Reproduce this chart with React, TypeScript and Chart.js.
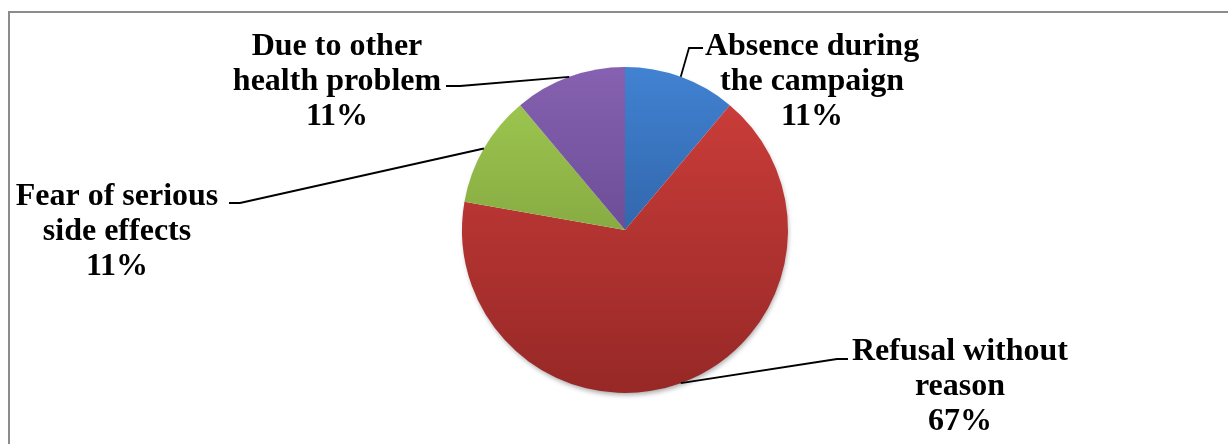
import React, { useEffect, useRef } from "react";
import { Chart, registerables } from "chart.js";

Chart.register(...registerables);

const categories = [
  ["Absence during", "the campaign"],
  ["Refusal without", "reason"],
  ["Fear of serious", "side effects"],
  ["Due to other", "health problem"],
];
const values = [1, 6, 1, 1];
const percentLabels = ["11%", "67%", "11%", "11%"];
const topColors = ["#4182D2", "#D03F3C", "#A2CC52", "#8661B1"];
const bottomColors = ["#234C86", "#962826", "#6C8B33", "#523A7C"];

// label layout: text centre x, first baseline y, elbow point, end point
const labelLayout = [
  { x: 812, y: 55, elbow: [689, 48], end: [703, 48] },
  { x: 960, y: 360, elbow: [837, 359], end: [848, 359] },
  { x: 117, y: 205, elbow: [240, 203], end: [229, 203] },
  { x: 337, y: 55, elbow: [460, 86], end: [446, 86] },
];

const labelPlugin = {
  id: "pieLabels",
  beforeDatasetsDraw(chart: any) {
    const meta = chart.getDatasetMeta(0);
    const arc = meta.data[0];
    if (!arc) return;
    const ctx = chart.ctx;
    ctx.save();
    ctx.shadowColor = "rgba(0,0,0,0.35)";
    ctx.shadowBlur = 5;
    ctx.shadowOffsetX = 1;
    ctx.shadowOffsetY = 3;
    ctx.fillStyle = "#ffffff";
    ctx.beginPath();
    ctx.arc(arc.x, arc.y, arc.outerRadius - 1, 0, Math.PI * 2);
    ctx.fill();
    ctx.restore();
  },
  afterDatasetsDraw(chart: any) {
    const ctx = chart.ctx;
    const meta = chart.getDatasetMeta(0);
    ctx.save();
    meta.data.forEach((arc: any, i: number) => {
      const mid = (arc.startAngle + arc.endAngle) / 2;
      const ax = arc.x + Math.cos(mid) * arc.outerRadius;
      const ay = arc.y + Math.sin(mid) * arc.outerRadius;
      const lay = labelLayout[i];
      ctx.strokeStyle = "#000000";
      ctx.lineWidth = 1.8;
      ctx.beginPath();
      ctx.moveTo(ax, ay);
      ctx.lineTo(lay.elbow[0], lay.elbow[1]);
      ctx.lineTo(lay.end[0], lay.end[1]);
      ctx.stroke();
      ctx.fillStyle = "#000000";
      ctx.font = "bold 32px 'Liberation Serif'";
      ctx.textAlign = "center";
      ctx.textBaseline = "alphabetic";
      const lines = [...categories[i], percentLabels[i]];
      lines.forEach((t, k) => ctx.fillText(t, lay.x, lay.y + k * 35));
    });
    ctx.restore();
  },
};

export default function App() {
  const ref = useRef<HTMLCanvasElement | null>(null);
  useEffect(() => {
    if (!ref.current) return;
    const chart = new Chart(ref.current, {
      type: "pie",
      data: {
        labels: categories.map((c) => c.join(" ")),
        datasets: [
          {
            data: values,
            borderWidth: 0,
            backgroundColor: (c: any) => {
              const ch = c.chart;
              const area = ch.chartArea;
              if (!area) return topColors[c.dataIndex];
              const g = ch.ctx.createLinearGradient(0, area.top, 0, area.bottom);
              g.addColorStop(0, topColors[c.dataIndex]);
              g.addColorStop(1, bottomColors[c.dataIndex]);
              return g;
            },
          },
        ],
      },
      options: {
        animation: false,
        responsive: false,
        layout: { padding: { left: 462, right: 440, top: 67, bottom: 51 } },
        plugins: { legend: { display: false }, tooltip: { enabled: false } },
      },
      plugins: [labelPlugin],
    });
    return () => chart.destroy();
  }, []);
  return (
    <div style={{ position: "fixed", left: 0, top: 0, width: 1228, height: 444, background: "#fff", overflow: "hidden" }}>
      <div
        style={{
          position: "absolute",
          left: 8,
          top: 11,
          width: 1300,
          height: 500,
          borderLeft: "2px solid #8c8c8c",
          borderTop: "2px solid #8c8c8c",
        }}
      />
      <canvas ref={ref} width={1228} height={444} style={{ position: "absolute", left: 0, top: 0 }} />
    </div>
  );
}
